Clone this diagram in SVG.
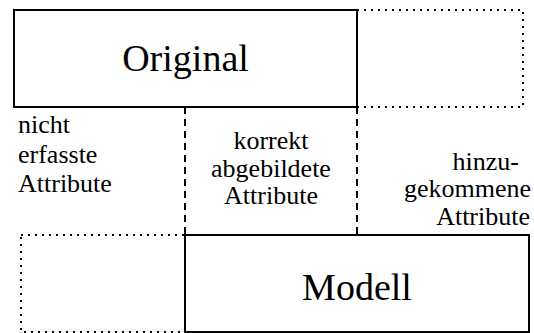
<svg xmlns="http://www.w3.org/2000/svg" width="534" height="333" viewBox="0 0 534 333">
<style>
.solid{fill:none;stroke:#000;stroke-width:2}
.dot{fill:none;stroke:#000;stroke-width:2;stroke-dasharray:2 5}
.dash{fill:none;stroke:#000;stroke-width:2;stroke-dasharray:7 5}
.big{font-size:38px;text-anchor:middle}
.sm{font-size:26px}
</style>
<rect width="534" height="333" fill="#fff"/>
<g id="original-ext"><rect class="dot" x="357" y="10" width="166" height="97"/></g>
<g id="modell-ext"><rect class="dot" x="21" y="235" width="164" height="97"/></g>
<g id="connectors">
<line class="dash" x1="185" y1="107" x2="185" y2="235"/>
<line class="dash" x1="357" y1="107" x2="357" y2="235"/>
</g>
<g font-family="'Liberation Serif', 'Times New Roman', Times, serif" fill="#000">
<g id="original"><rect class="solid" x="14" y="10" width="343" height="97"/><text class="big" x="185.5" y="71">Original</text></g>
<g id="modell"><rect class="solid" x="185" y="235" width="344" height="97"/><text class="big" x="357" y="300">Modell</text></g>
<g id="nicht"><text class="sm" x="18"><tspan x="18" y="133">nicht</tspan><tspan x="18" y="163">erfasste</tspan><tspan x="18" y="192">Attribute</tspan></text></g>
<g id="korrekt"><text class="sm" text-anchor="middle"><tspan x="271" y="149">korrekt</tspan><tspan x="271" y="177">abgebildete</tspan><tspan x="271" y="204">Attribute</tspan></text></g>
<g id="hinzu"><text class="sm" text-anchor="end"><tspan x="519" y="170">hinzu-</tspan><tspan x="531" y="197">gekommene</tspan><tspan x="530" y="225">Attribute</tspan></text></g>
</g>
</svg>
